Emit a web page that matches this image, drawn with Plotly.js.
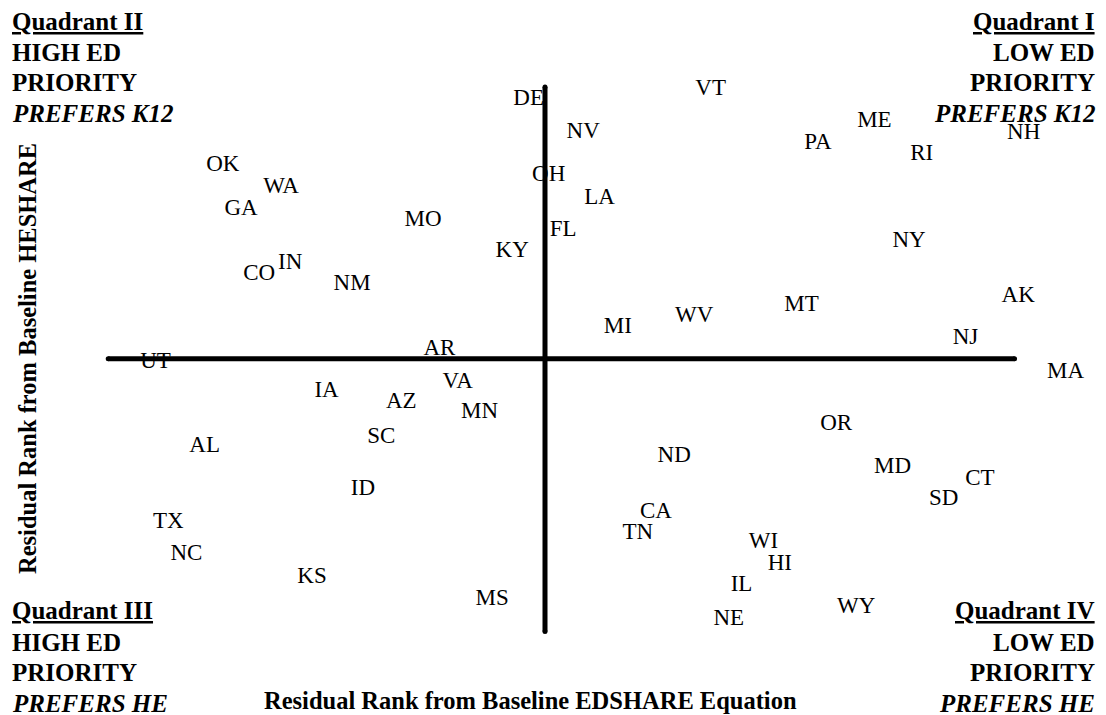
<!DOCTYPE html>
<html>
<head>
<meta charset="utf-8">
<script src="https://cdn.plot.ly/plotly-3.0.1.min.js"></script>
<style>
  html, body { margin: 0; padding: 0; background: #ffffff; }
  #chart { width: 1106px; height: 715px; }
</style>
</head>
<body>
<div id="chart"></div>
<script>
// State abbreviations and their residual ranks (EDSHARE on x, HESHARE on y)
const states = [
  "VT","ME","PA","NH","RI","NY","AK","MT","WV","MI","NJ","NV","LA","FL","OH","DE",
  "OK","WA","GA","MO","KY","CO","IN","NM","AR","UT",
  "IA","AZ","VA","MN","SC","AL","ID","TX","NC","KS","MS",
  "MA","OR","ND","MD","CT","SD","CA","TN","WI","HI","IL","WY","NE"
];
const edshareRank = [
  9.1, 18.1, 15.0, 26.3, 20.7, 20.0, 26.0, 14.1, 8.2, 4.0, 23.1, 2.1, 3.0, 1.0, 0.2, -0.9,
  -17.7, -14.5, -16.7, -6.7, -1.8, -15.7, -14.0, -10.6, -5.8, -21.4,
  -12.0, -7.9, -4.8, -3.6, -9.0, -18.7, -10.0, -20.7, -19.7, -12.8, -2.9,
  28.6, 16.0, 7.1, 19.1, 23.9, 21.9, 6.1, 5.1, 12.0, 12.9, 10.8, 17.1, 10.1
];
const heshareRank = [
  24.5, 21.6, 19.6, 20.5, 18.6, 10.7, 5.7, 4.9, 3.9, 2.9, 1.9, 20.6, 14.6, 11.7, 16.7, 23.6,
  17.6, 15.6, 13.6, 12.6, 9.8, 7.7, 8.7, 6.8, 0.9, -0.3,
  -3.0, -4.0, -2.1, -4.9, -7.1, -8.0, -11.9, -14.9, -17.8, -19.9, -21.9,
  -1.2, -6.0, -8.9, -9.9, -11.0, -12.8, -14.0, -15.9, -16.7, -18.7, -20.6, -22.6, -23.7
];
// Quadrant dividing axes
const hAxisX = [-24.0, 25.8];
const hAxisY = [0, 0];
const vAxisX = [0, 0];
const vAxisY = [24.7, -24.8];

// Quadrant labels
const quadrantTopLeft = ["<u>Quadrant II</u>", "HIGH ED", "PRIORITY", "<i>PREFERS K12</i>"];
const quadrantTopRight = ["<u>Quadrant I</u>", "LOW ED", "PRIORITY", "<i>PREFERS K12</i>"];
const quadrantBottomLeft = ["<u>Quadrant III</u>", "HIGH ED", "PRIORITY", "<i>PREFERS HE</i>"];
const quadrantBottomRight = ["<u>Quadrant IV</u>", "LOW ED", "PRIORITY", "<i>PREFERS HE</i>"];
const xTitle = "Residual Rank from Baseline EDSHARE Equation";
const yTitle = "Residual Rank from Baseline HESHARE";

const serifFamily = "Liberation Serif";

const traces = [
  {
    type: "scatter", mode: "text",
    x: edshareRank, y: heshareRank, text: states,
    textposition: "middle center",
    textfont: { family: serifFamily, size: 23, color: "#000000" },
    hoverinfo: "skip", showlegend: false
  },
  {
    type: "scatter", mode: "lines+markers",
    x: hAxisX, y: hAxisY,
    line: { color: "#000000", width: 5 },
    marker: { color: "#000000", size: 5 },
    hoverinfo: "skip", showlegend: false
  },
  {
    type: "scatter", mode: "lines+markers",
    x: vAxisX, y: vAxisY,
    line: { color: "#000000", width: 5 },
    marker: { color: "#000000", size: 5 },
    hoverinfo: "skip", showlegend: false
  }
];

const W = 1106, H = 715;
const topRows = [21, 52, 82, 113];
const bottomRows = [610, 642, 672, 703];
const annotations = [];
function addBlock(lines, rows, xpx, anchor) {
  lines.forEach((t, i) => {
    annotations.push({
      xref: "paper", yref: "paper",
      x: xpx / W, y: 1 - rows[i] / H,
      xanchor: anchor, yanchor: "middle",
      text: "<b>" + t + "</b>", showarrow: false,
      align: anchor,
      font: { family: serifFamily, size: 25, color: "#000000" }
    });
  });
}
addBlock(quadrantTopLeft, topRows, 10, "left");
addBlock(quadrantTopRight, topRows, 1097, "right");
addBlock(quadrantBottomLeft, bottomRows, 10, "left");
addBlock(quadrantBottomRight, bottomRows, 1097, "right");
annotations.push({
  xref: "paper", yref: "paper", x: 530 / W, y: 1 - 700 / H,
  xanchor: "center", yanchor: "middle", showarrow: false,
  text: "<b>" + xTitle + "</b>",
  font: { family: serifFamily, size: 24.5, color: "#000000" }
});
annotations.push({
  xref: "paper", yref: "paper", x: 27 / W, y: 1 - 359 / H,
  xanchor: "center", yanchor: "middle", showarrow: false, textangle: -90,
  text: "<b>" + yTitle + "</b>",
  font: { family: serifFamily, size: 24.5, color: "#000000" }
});

const layout = {
  width: W, height: H,
  margin: { l: 0, r: 0, t: 0, b: 0, pad: 0 },
  paper_bgcolor: "#ffffff", plot_bgcolor: "#ffffff",
  showlegend: false,
  font: { family: serifFamily, color: "#000000" },
  xaxis: { range: [-545 / 18.2, 561 / 18.2], visible: false, fixedrange: true },
  yaxis: { range: [-358 / 11 + 0.15, 357 / 11 + 0.15], visible: false, fixedrange: true },
  annotations: annotations
};

Plotly.newPlot("chart", traces, layout, { staticPlot: true });
</script>
</body>
</html>
